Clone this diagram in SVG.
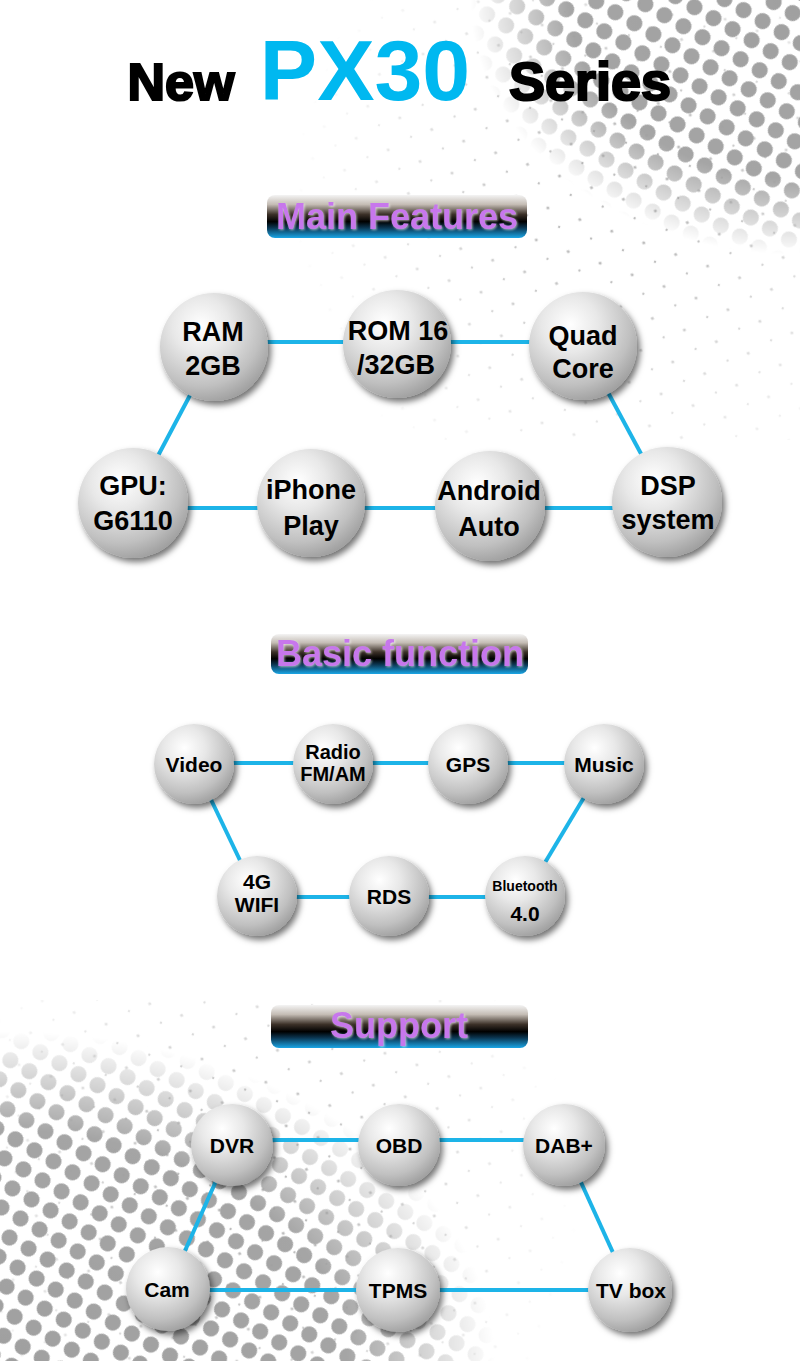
<svg xmlns="http://www.w3.org/2000/svg" width="800" height="1361" viewBox="0 0 800 1361">
<defs>
<style>
.t{font-family:"Liberation Sans",Arial,sans-serif;font-weight:bold;fill:#000;text-anchor:middle}
.big{font-size:27px}
.mid{font-size:21px}
.hd{font-size:54px;stroke:#000;stroke-width:2.2}
.ban{font-family:"Liberation Sans",Arial,sans-serif;font-weight:bold;font-size:36px;fill:#c777ec;text-anchor:middle}
.c{stroke:#1db4e8;stroke-width:4;fill:none}
.node{fill:url(#ball);filter:url(#sh)}
</style>
<radialGradient id="ball" cx="0.38" cy="0.3" r="0.75">
<stop offset="0" stop-color="#ffffff"/>
<stop offset="0.35" stop-color="#e8e8e8"/>
<stop offset="0.75" stop-color="#c0c0c0"/>
<stop offset="1" stop-color="#9c9c9c"/>
</radialGradient>
<filter id="sh" x="-30%" y="-30%" width="170%" height="170%">
<feDropShadow dx="3" dy="4" stdDeviation="3" flood-color="#000" flood-opacity="0.55"/>
</filter>
<filter id="ts" x="-10%" y="-20%" width="120%" height="140%">
<feDropShadow dx="1" dy="1" stdDeviation="1" flood-color="#fff" flood-opacity="0.6"/>
</filter>
<linearGradient id="bang" x1="0" y1="0" x2="0" y2="1">
<stop offset="0" stop-color="#f4f4f4"/>
<stop offset="0.22" stop-color="#c4bcb4"/>
<stop offset="0.45" stop-color="#3c3128"/>
<stop offset="0.62" stop-color="#000000"/>
<stop offset="0.76" stop-color="#0b3550"/>
<stop offset="1" stop-color="#1aa6e6"/>
</linearGradient>
<pattern id="dotsL" width="22" height="22" patternUnits="userSpaceOnUse" patternTransform="rotate(30)">
<circle cx="11" cy="11" r="8" fill="#a0a0a0"/>
</pattern>
<pattern id="dotsS" width="34" height="34" patternUnits="userSpaceOnUse" patternTransform="rotate(20)">
<circle cx="8" cy="8" r="1.6" fill="#a0a0a0"/>
<circle cx="25" cy="22" r="1.2" fill="#a0a0a0"/>
</pattern>
<radialGradient id="fadeTR" cx="800" cy="0" r="300" gradientUnits="userSpaceOnUse" gradientTransform="translate(800 0) scale(1.1 0.85) translate(-800 0)">
<stop offset="0" stop-color="#fff" stop-opacity="1"/>
<stop offset="0.7" stop-color="#fff" stop-opacity="0.95"/>
<stop offset="1" stop-color="#fff" stop-opacity="0"/>
</radialGradient>
<radialGradient id="fadeTR2" cx="620" cy="200" r="330" gradientUnits="userSpaceOnUse">
<stop offset="0.2" stop-color="#fff" stop-opacity="0.7"/>
<stop offset="1" stop-color="#fff" stop-opacity="0"/>
</radialGradient>
<radialGradient id="fadeBL" cx="0" cy="1361" r="330" gradientUnits="userSpaceOnUse" gradientTransform="translate(0 1361) scale(1.5 1) translate(0 -1361)">
<stop offset="0" stop-color="#fff" stop-opacity="1"/>
<stop offset="0.7" stop-color="#fff" stop-opacity="0.95"/>
<stop offset="1" stop-color="#fff" stop-opacity="0"/>
</radialGradient>
<radialGradient id="fadeBL2" cx="250" cy="1200" r="330" gradientUnits="userSpaceOnUse">
<stop offset="0.2" stop-color="#fff" stop-opacity="0.7"/>
<stop offset="1" stop-color="#fff" stop-opacity="0"/>
</radialGradient>
<mask id="mTR"><rect width="800" height="1361" fill="url(#fadeTR)"/></mask>
<mask id="mTR2"><rect width="800" height="1361" fill="url(#fadeTR2)"/></mask>
<mask id="mBL"><rect width="800" height="1361" fill="url(#fadeBL)"/></mask>
<mask id="mBL2"><rect width="800" height="1361" fill="url(#fadeBL2)"/></mask>
</defs>
<rect width="800" height="1361" fill="#ffffff"/>
<g id="background">
<rect x="130" y="0" width="670" height="440" fill="url(#dotsS)" mask="url(#mTR2)"/>
<rect x="460" y="0" width="340" height="280" fill="url(#dotsL)" mask="url(#mTR)"/>
<rect x="0" y="1000" width="600" height="361" fill="url(#dotsS)" mask="url(#mBL2)"/>
<rect x="0" y="1000" width="520" height="361" fill="url(#dotsL)" mask="url(#mBL)"/>
</g>
<g id="title">
<text x="181" y="100" class="t hd" style="font-size:52px">New</text>
<text x="365" y="100" style="font-family:'Liberation Sans',Arial,sans-serif;font-weight:bold;font-size:86px;fill:#00b8f0;text-anchor:middle">PX30</text>
<text x="590" y="100" class="t hd">Series</text>
</g>
<g id="banner-main">
<rect x="267" y="195" width="260" height="43" rx="8" fill="url(#bang)"/>
<text x="397" y="229" class="ban" filter="url(#ts)">Main Features</text>
</g>
<g id="banner-basic">
<rect x="271" y="634" width="257" height="40" rx="8" fill="url(#bang)"/>
<text x="400" y="666" class="ban" filter="url(#ts)">Basic function</text>
</g>
<g id="banner-support">
<rect x="271" y="1005" width="257" height="43" rx="8" fill="url(#bang)"/>
<text x="399" y="1038" class="ban" filter="url(#ts)">Support</text>
</g>
<g id="connectors">
<line class="c" x1="215" y1="342" x2="397" y2="342"/>
<line class="c" x1="397" y1="342" x2="583" y2="342"/>
<line class="c" x1="215" y1="348" x2="133" y2="503"/>
<line class="c" x1="583" y1="346" x2="667" y2="502"/>
<line class="c" x1="133" y1="508" x2="311" y2="508"/>
<line class="c" x1="311" y1="508" x2="490" y2="508"/>
<line class="c" x1="490" y1="508" x2="667" y2="508"/>
<line class="c" x1="194" y1="763" x2="604" y2="763"/>
<line class="c" x1="194" y1="764" x2="257" y2="896"/>
<line class="c" x1="604" y1="764" x2="525" y2="896"/>
<line class="c" x1="257" y1="897" x2="525" y2="897"/>
<line class="c" x1="232" y1="1140" x2="564" y2="1140"/>
<line class="c" x1="232" y1="1145" x2="168" y2="1289"/>
<line class="c" x1="564" y1="1145" x2="630" y2="1290"/>
<line class="c" x1="168" y1="1290" x2="630" y2="1290"/>
</g>
<g id="n-ram"><circle class="node" cx="214" cy="347" r="54"/><text class="t big" x="213" y="341">RAM</text><text class="t big" x="213" y="375">2GB</text></g>
<g id="n-rom"><circle class="node" cx="397" cy="344" r="54"/><text class="t big" x="398" y="340">ROM 16</text><text class="t big" x="396" y="374">/32GB</text></g>
<g id="n-quad"><circle class="node" cx="583" cy="346" r="54"/><text class="t big" x="583" y="345">Quad</text><text class="t big" x="583" y="378">Core</text></g>
<g id="n-gpu"><circle class="node" cx="133" cy="503" r="55"/><text class="t big" x="133" y="495">GPU:</text><text class="t big" x="133" y="530">G6110</text></g>
<g id="n-iphone"><circle class="node" cx="311" cy="503" r="54"/><text class="t big" x="311" y="499">iPhone</text><text class="t big" x="311" y="535">Play</text></g>
<g id="n-android"><circle class="node" cx="490" cy="506" r="55"/><text class="t big" x="489" y="500">Android</text><text class="t big" x="489" y="536">Auto</text></g>
<g id="n-dsp"><circle class="node" cx="667" cy="502" r="55"/><text class="t big" x="668" y="495">DSP</text><text class="t big" x="668" y="529">system</text></g>
<g id="n-video"><circle class="node" cx="194" cy="764" r="40"/><text class="t mid" x="194" y="772">Video</text></g>
<g id="n-radio"><circle class="node" cx="333" cy="764" r="40"/><text class="t" style="font-size:20px" x="333" y="759">Radio</text><text class="t" style="font-size:20px" x="333" y="781">FM/AM</text></g>
<g id="n-gps"><circle class="node" cx="468" cy="764" r="40"/><text class="t mid" x="468" y="772">GPS</text></g>
<g id="n-music"><circle class="node" cx="604" cy="764" r="40"/><text class="t mid" x="604" y="772">Music</text></g>
<g id="n-4g"><circle class="node" cx="257" cy="896" r="40"/><text class="t mid" x="257" y="889">4G</text><text class="t mid" x="257" y="912">WIFI</text></g>
<g id="n-rds"><circle class="node" cx="389" cy="896" r="40"/><text class="t mid" x="389" y="904">RDS</text></g>
<g id="n-bt"><circle class="node" cx="525" cy="896" r="40"/><text class="t" style="font-size:14px" x="525" y="891">Bluetooth</text><text class="t mid" x="525" y="921">4.0</text></g>
<g id="n-dvr"><circle class="node" cx="232" cy="1145" r="41"/><text class="t mid" x="232" y="1153">DVR</text></g>
<g id="n-obd"><circle class="node" cx="399" cy="1145" r="41"/><text class="t mid" x="399" y="1153">OBD</text></g>
<g id="n-dab"><circle class="node" cx="564" cy="1145" r="41"/><text class="t mid" x="564" y="1153">DAB+</text></g>
<g id="n-cam"><circle class="node" cx="168" cy="1289" r="42"/><text class="t mid" x="167" y="1297">Cam</text></g>
<g id="n-tpms"><circle class="node" cx="398" cy="1290" r="42"/><text class="t mid" x="398" y="1298">TPMS</text></g>
<g id="n-tvbox"><circle class="node" cx="630" cy="1290" r="42"/><text class="t mid" x="631" y="1298">TV box</text></g>
</svg>
